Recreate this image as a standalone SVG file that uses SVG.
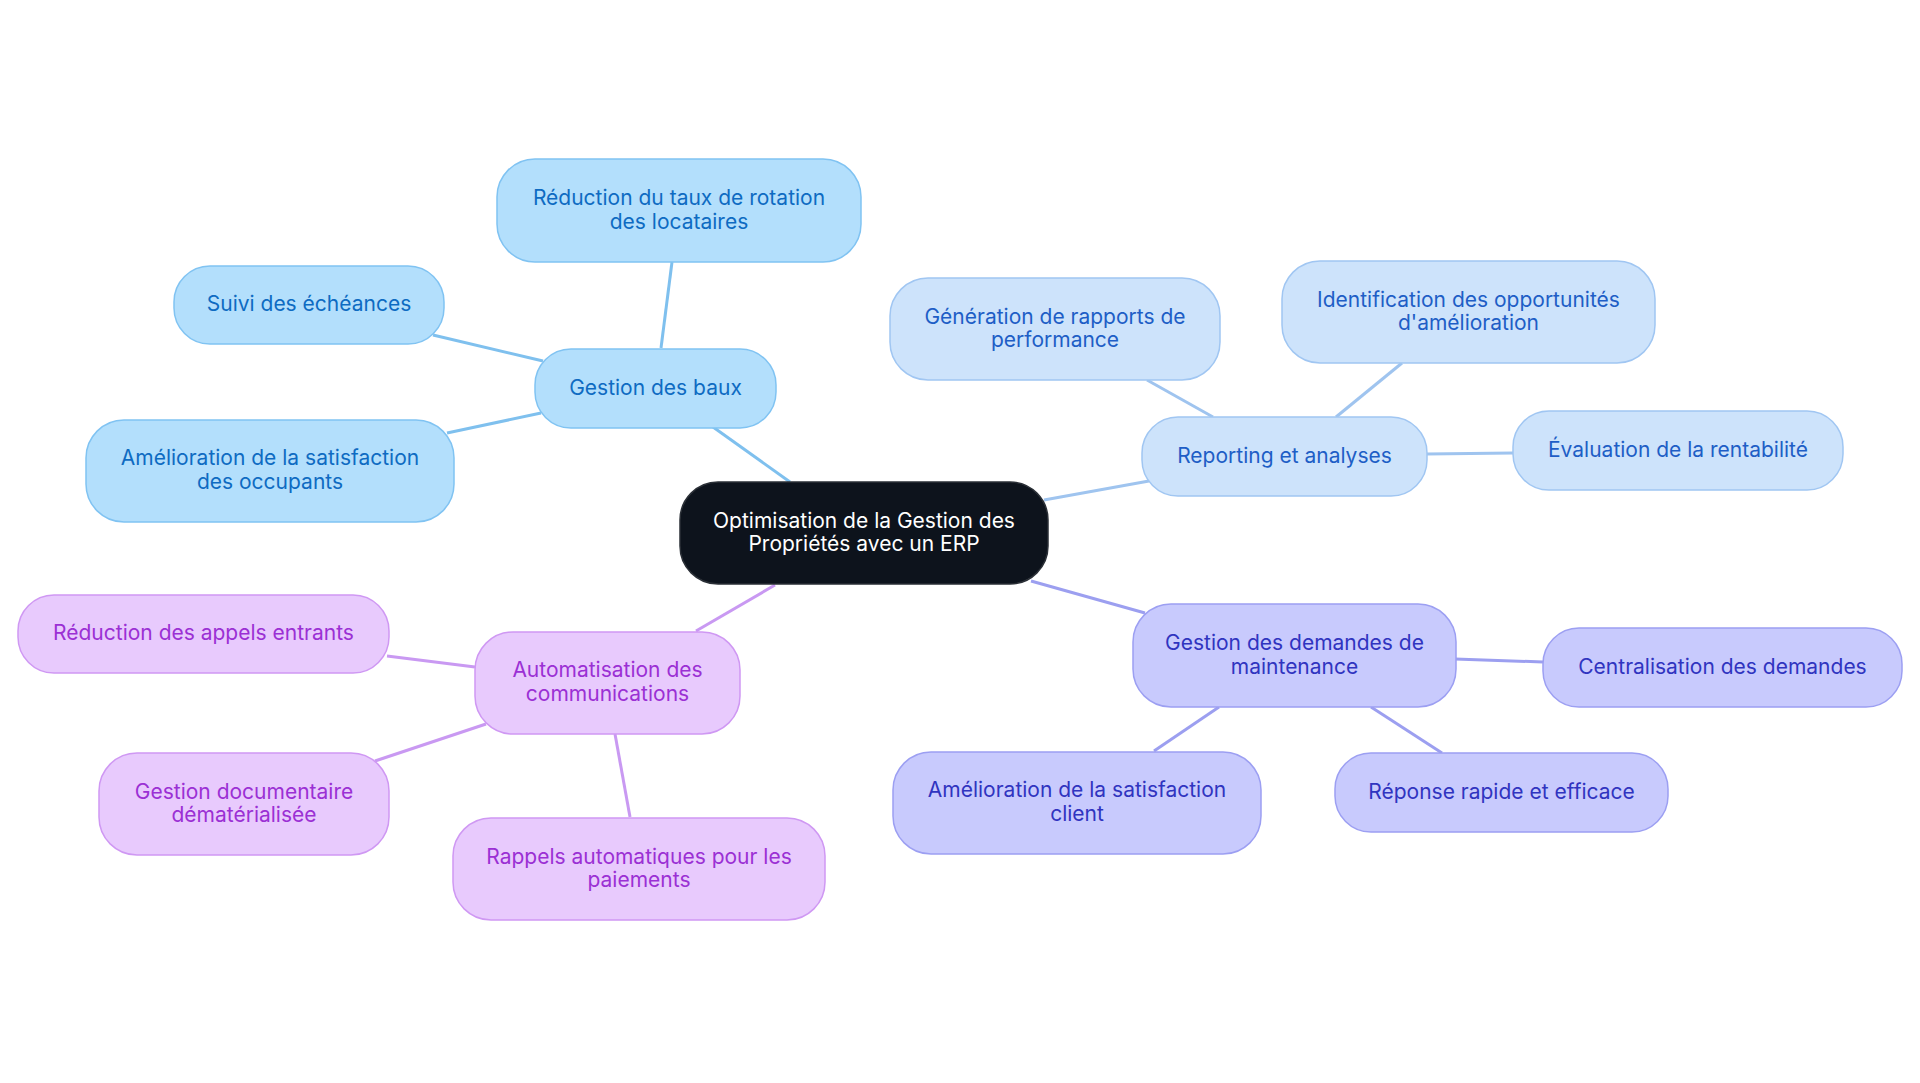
<svg xmlns="http://www.w3.org/2000/svg" width="1920" height="1083" viewBox="0 0 1920 1083">
<style>
text{font-family:Inter,"Noto Sans","Liberation Sans",sans-serif;font-size:21px;text-anchor:middle;dominant-baseline:central}
.c rect{fill:#0d131c;stroke:#2a2f36;stroke-width:1.5}
.c text{fill:#ffffff}
.b rect{fill:#b3dffc;stroke:#80c3f2;stroke-width:1.5}
.b text{fill:#0e6bc2}
.r rect{fill:#cde3fb;stroke:#a0c6f2;stroke-width:1.5}
.r text{fill:#1e5ec6}
.m rect{fill:#c8cafd;stroke:#9c9ff2;stroke-width:1.5}
.m text{fill:#3034c0}
.p rect{fill:#e8cafd;stroke:#cf98f3;stroke-width:1.5}
.p text{fill:#9b30d4}
#edges line{stroke-width:3;fill:none}
.eb{stroke:#7fc0ee}.er{stroke:#9fc4ef}.em{stroke:#9c9ff0}.ep{stroke:#c999f2}
</style>
<rect width="1920" height="1083" fill="#ffffff"/>
<g id="edges">
<line class="eb" x1="790" y1="482" x2="713" y2="427"/>
<line class="eb" x1="661" y1="348" x2="672" y2="262"/>
<line class="eb" x1="543" y1="361" x2="433" y2="335"/>
<line class="eb" x1="541" y1="413" x2="447" y2="433"/>
<line class="er" x1="1044" y1="500" x2="1149" y2="481"/>
<line class="er" x1="1213" y1="417" x2="1147" y2="380"/>
<line class="er" x1="1336" y1="417" x2="1402" y2="363"/>
<line class="er" x1="1427" y1="454" x2="1513" y2="453"/>
<line class="em" x1="1031" y1="581" x2="1145" y2="613"/>
<line class="em" x1="1455" y1="659" x2="1543" y2="662"/>
<line class="em" x1="1219" y1="707" x2="1154" y2="751"/>
<line class="em" x1="1371" y1="707" x2="1442" y2="753"/>
<line class="ep" x1="775" y1="585" x2="696" y2="631"/>
<line class="ep" x1="475" y1="667" x2="387" y2="656"/>
<line class="ep" x1="486" y1="724" x2="375" y2="761"/>
<line class="ep" x1="615" y1="734" x2="630" y2="817"/>
</g>
<g id="center" class="c"><rect x="680" y="482" width="368" height="102" rx="38"/><text x="864" y="520">Optimisation de la Gestion des</text><text x="864" y="543">Propriétés avec un ERP</text></g>
<g id="baux" class="b"><rect x="535" y="349" width="241" height="79" rx="36"/><text x="655.5" y="387">Gestion des baux</text></g>
<g id="rotation" class="b"><rect x="497" y="159" width="364" height="103" rx="38"/><text x="679" y="197">Réduction du taux de rotation</text><text x="679" y="221">des locataires</text></g>
<g id="echeances" class="b"><rect x="174" y="266" width="270" height="78" rx="36"/><text x="309" y="303">Suivi des échéances</text></g>
<g id="occupants" class="b"><rect x="86" y="420" width="368" height="102" rx="38"/><text x="270" y="457">Amélioration de la satisfaction</text><text x="270" y="481">des occupants</text></g>
<g id="reporting" class="r"><rect x="1142" y="417" width="285" height="79" rx="36"/><text x="1284.5" y="455">Reporting et analyses</text></g>
<g id="rapports" class="r"><rect x="890" y="278" width="330" height="102" rx="38"/><text x="1055" y="316">Génération de rapports de</text><text x="1055" y="339">performance</text></g>
<g id="opportunites" class="r"><rect x="1282" y="261" width="373" height="102" rx="38"/><text x="1468.5" y="299">Identification des opportunités</text><text x="1468.5" y="322">d'amélioration</text></g>
<g id="rentabilite" class="r"><rect x="1513" y="411" width="330" height="79" rx="36"/><text x="1678" y="449">Évaluation de la rentabilité</text></g>
<g id="maintenance" class="m"><rect x="1133" y="604" width="323" height="103" rx="38"/><text x="1294.5" y="642">Gestion des demandes de</text><text x="1294.5" y="666">maintenance</text></g>
<g id="centralisation" class="m"><rect x="1543" y="628" width="359" height="79" rx="36"/><text x="1722.5" y="666">Centralisation des demandes</text></g>
<g id="client" class="m"><rect x="893" y="752" width="368" height="102" rx="38"/><text x="1077" y="789">Amélioration de la satisfaction</text><text x="1077" y="813">client</text></g>
<g id="reponse" class="m"><rect x="1335" y="753" width="333" height="79" rx="36"/><text x="1501.5" y="791">Réponse rapide et efficace</text></g>
<g id="communications" class="p"><rect x="475" y="632" width="265" height="102" rx="38"/><text x="607.5" y="669">Automatisation des</text><text x="607.5" y="693">communications</text></g>
<g id="appels" class="p"><rect x="18" y="595" width="371" height="78" rx="36"/><text x="203.5" y="632">Réduction des appels entrants</text></g>
<g id="documentaire" class="p"><rect x="99" y="753" width="290" height="102" rx="38"/><text x="244" y="791">Gestion documentaire</text><text x="244" y="814">dématérialisée</text></g>
<g id="paiements" class="p"><rect x="453" y="818" width="372" height="102" rx="38"/><text x="639" y="856">Rappels automatiques pour les</text><text x="639" y="879">paiements</text></g>
</svg>
